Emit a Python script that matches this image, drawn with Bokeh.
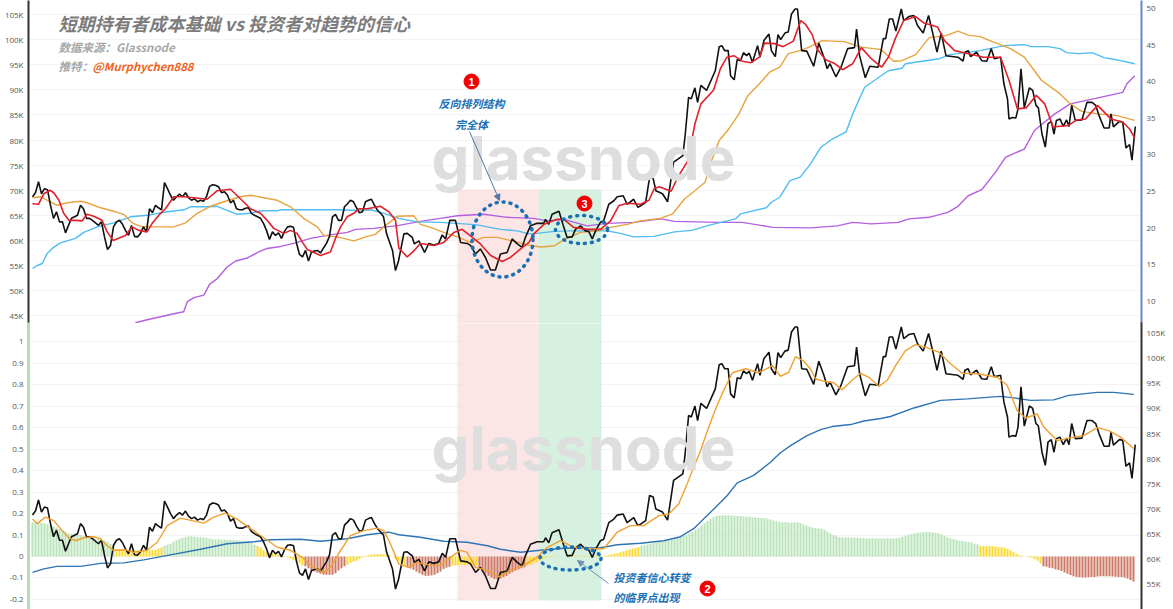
from bokeh.core.properties import value
from bokeh.embed import file_html
from bokeh.layouts import column
from bokeh.models import Arrow, FixedTicker, Label, LinearAxis, NormalHead, Range1d
from bokeh.plotting import figure
from bokeh.resources import INLINE

# days since the start of the chart, price in thousands of USD
price_days = list(range(123)) + [123.8, 124.9, 126.6, 127.3, 128.8, 130.7, 132.1, 133.8, 135.4, 136.6, 137.7, 139.1, 141, 142.7, 144.9, 146, 147.7, 149.3, 151, 152.7, 154.3, 156, 158.2, 159.9, 161.6, 163.2, 164.3, 166, 168.2, 170.4, 171, 172.1, 173.2, 175.5, 176.8, 178.2, 179.9, 181, 182.7, 184.3, 185.4, 186.6, 187.7, 189.3, 190.4, 192.1, 193.8, 194.9, 196.9, 198.2, 200.4, 201.8, 202.7, 204.4, 205.7, 206.9, 207.8, 210, 211.7, 213.7, 216.8, 217.6, 218.7, 219.6, 220.8, 221.7, 222.8, 224.7, 227.6, 228.9, 229.8, 230.7, 231.9, 232.7, 233.9, 234.9, 236, 237, 238, 238.9, 240, 241.7, 242.5, 243.8, 245.5, 246.3, 247.6, 248.5, 249.4, 250.8, 251.9, 253, 254.2, 255, 256.4, 258.1, 260.4, 262.1, 263.8, 264.9, 265.8, 267.8, 269.5, 271.7, 274, 274.7, 275.7, 277.6, 279.1, 281.9, 283.6, 284.4, 285.6, 286.7, 287.8, 289.6, 290.4, 292.1, 293.8, 295, 296.9, 298.7, 300, 301.5, 302.9, 304.5, 308.5, 310.2, 310.8, 311.9, 312.7, 314.7, 316.4, 318.1, 319.6, 320.6, 322.7, 323.8, 325, 325.5, 326.6, 327.8, 328.5, 329.5, 330.6, 332.3, 333.4, 334.5, 335.3, 336.5, 337.6, 338.5, 339.6, 340.5, 341.3, 342.5, 343.6, 344.7, 345.5, 346.4, 347.6, 349.8, 351.5, 353.2, 354.4, 355.5, 357.2, 358.9, 359.5, 360.3, 362.3, 363.4, 364.5, 365.7, 366.5, 367.6]
price = [68.7, 69.5, 71.7, 69.3, 70.3, 70.1, 67, 64.4, 65.7, 63.7, 63.7, 61.5, 63, 64.4, 64.7, 65, 67, 66.3, 64.4, 64.4, 64, 63.5, 63, 63.7, 60.7, 58.2, 59, 62.7, 63.7, 64, 63.2, 62, 61, 63, 60.8, 60.7, 61.4, 62.7, 61.7, 66.3, 65.5, 67, 66.5, 66.1, 71.5, 70.3, 69, 68, 68.7, 69.2, 68.7, 69.5, 68.5, 68, 68.3, 67.7, 68, 67.8, 68.7, 70.7, 71.1, 71, 70.7, 69.5, 69.7, 69, 67.5, 68, 66.3, 66.1, 66.1, 66.4, 66.5, 65.4, 65, 64.7, 64.4, 63.4, 62, 60.2, 61.7, 61, 61.5, 60.4, 61.8, 62.7, 62.8, 62.6, 59.5, 57.2, 56.7, 58, 55.9, 57.7, 57.9, 58, 57.5, 58.5, 59.4, 60.8, 64.7, 65.2, 64, 64, 66.7, 67.3, 68, 67.7, 66.5, 65.5, 65.7, 67.7, 68, 68.2, 67, 66, 65.4, 64.7, 61.4, 59.7, 58, 54, 55.9,
         61.3, 61.4, 60.6, 59.3, 59.9, 57.6, 59.4, 59.1, 59.4, 61.1, 60.3, 64, 64, 59.6, 59.4, 59, 57.3, 58.3, 56.6, 54.1, 54.1, 57.3, 57.6, 60.3, 59.3, 58.6, 60.6, 62.9, 63.4, 63.4, 64.2, 63.2, 65.2, 65.8, 63.2, 60.6, 60.7, 62.2, 62.9, 61.9, 61.8, 60.3, 61.9, 63.6, 63.9, 67.2, 67.9, 68.7, 68.9, 67.2, 68.2, 66.6,
         66.9, 67.6, 72.6, 72.3, 69.9, 69.3, 67.7, 75.6, 76.9, 81.2, 88.5, 88.2, 90.4, 87.5, 90.9, 89.9, 93.8, 98.6, 98.8, 97.8, 97.8, 92.8, 92, 96, 95.8, 97.4, 96.8, 97.3, 95.5, 98.8, 96.5, 99.8, 101.1, 97.8, 96.6, 101, 100, 101.3, 101.5, 105.1, 106.1, 106.1, 97.8, 97.7, 94.7, 99.3, 96.5, 94.2, 95.2, 92.6, 94.5, 98.2, 98.4, 102.1, 96.8, 92.4, 94.7, 94.5, 100.2, 100.2, 104.1, 104.1, 101.7, 106.1, 103.8, 104.6, 104.8, 102.8, 101.3, 104.8, 101.5, 97.5, 101.3, 96.8, 96.5, 95.7, 97.5, 97.8, 96.6, 97.5, 95.8, 95.7, 98.2, 96.2, 96.5, 91.2, 88.2, 84.2, 84.5, 84.4, 86.2, 94.2, 86.4, 90.4, 89.9, 86.9, 86.4, 81.2, 78.6, 83.2, 83.7, 81.2, 83.9, 84.2, 82.7, 84, 82.7, 86.9, 83.9, 84, 87.5, 87.5, 86.9, 84.9, 82.4, 82.4, 85.2, 82.6, 83.7, 83.6, 78.4, 79.1, 76, 82.7]

red_days = [0, 2, 3.8, 5.8, 7.1, 8.8, 10.4, 12.1, 14.3, 16.6, 18.2, 20.4, 23.2, 24.9, 26.9, 29.3, 31, 33.2, 35.4, 38.2, 39.9, 42.7, 44.3, 47.1, 50.4, 53.8, 58.2, 61.6, 66, 69.3, 72.7, 76, 78.2, 80.4, 83.8, 86, 88.2, 89.9, 91.6, 96, 99.3, 101, 102.7, 104.9, 107.1, 108.8, 111.6, 116, 118.8, 121, 122.1, 124.9, 127.1, 129.3, 133.8, 137.1, 140.5, 143.2, 146, 149.3, 152.7, 156.6, 159.3, 162.7, 165.5, 167.1, 170.5, 174.9, 177.1, 180.4, 184.9, 189.3, 192.7, 195.4, 198.2, 202.7, 205.5, 207.2, 208.9, 212.9, 215.1, 218.5, 220.8, 222.8, 227, 229.3, 231.5, 233.8, 236.6, 239.5, 242.3, 244, 247.4, 250.2, 253.6, 256.1, 257.6, 259.8, 261.5, 264.4, 267.2, 270, 273.4, 276.3, 279.6, 283, 285.3, 287.6, 290.4, 294.4, 297.2, 301.7, 304, 307.4, 311.3, 317, 322.7, 325.5, 328.3, 331.2, 334.6, 337.4, 340.2, 345.3, 348.1, 351, 355, 359.5, 363.4, 365.7, 367.4]
red = [67.3, 67.2, 69.3, 70, 69.5, 68, 65.4, 64, 64, 63.9, 65.2, 64.8, 64, 61.7, 60, 60.6, 61, 62.7, 62, 61.7, 63.4, 65.4, 66.3, 68.7, 68.7, 68.5, 68.2, 69.9, 70.2, 68.3, 66.3, 65.4, 64, 62.4, 61.4, 62, 61.4, 59.7, 58.2, 57, 57.7, 60.4, 62.7, 64.7, 65.4, 66.3, 66.3, 66.8, 65.7, 64, 58.5, 56.7, 57.9, 59.4, 59, 59.6, 61.6, 62.2, 60.9, 59.3, 57, 55.8, 56.6, 58.3, 59.6, 61.3, 63.2, 64.2, 64.2, 62.6, 62.2, 62.2, 63.9, 66.9, 67.4, 67.2, 68, 70.3, 70.7, 69.8, 72.6, 75.9, 83.2, 87.2, 89.9, 94.2, 96.5, 96.8, 95.7, 95.4, 96.5, 99.3, 99.2, 98.6, 99.7, 103.8, 103.1, 101.1, 98.2, 96, 95.3, 94, 95.2, 98.4, 96.2, 94.5, 96.5, 100.2, 103.8, 104.6, 103.3, 102.5, 99.8, 97.8, 97.3, 96.5, 96.5, 91.9, 86.2, 86.4, 88.9, 87.2, 82.6, 82.9, 84, 84.2, 86.9, 84.2, 83.6, 82.2, 80.4]

orange_days = [0, 2.7, 4.9, 8.2, 11.6, 16, 18.2, 22.7, 27.1, 30.4, 33.2, 36, 40.4, 47.1, 51, 54.9, 59.3, 64.9, 69.3, 72.7, 77.1, 81.6, 86, 90.4, 94.9, 97.1, 101.6, 107.1, 111.6, 114.3, 117.1, 121.6, 127.1, 129.3, 132.7, 137.1, 141.6, 146, 150.4, 154.9, 159.9, 164.9, 169.3, 173.8, 177.7, 182.7, 188.2, 192.7, 198.2, 202.7, 209.3, 213.4, 217.4, 220.8, 224.2, 226.4, 228.9, 232.1, 235.5, 238.3, 242.3, 245.7, 249.1, 251.9, 255.9, 259.3, 263.2, 270.6, 276.3, 283, 287, 289.8, 294.4, 298.9, 304.5, 308.5, 311.9, 315.9, 320.4, 326, 330.6, 334, 336.3, 341.9, 345.9, 349.8, 354.9, 361.2, 367.4]
orange = [68.5, 68.7, 68, 67, 67.5, 67.8, 67.5, 66.5, 65.8, 65.2, 63.5, 62.8, 62.7, 62.7, 63.5, 65.4, 66.8, 67.9, 68.7, 69, 68.5, 68, 66.7, 64.4, 62.7, 61, 60.7, 59.9, 60.8, 61.2, 62.7, 64.8, 64.9, 63.2, 62.6, 61.6, 60.7, 59.6, 60.6, 60.6, 59.9, 59.1, 58.7, 58.9, 60.3, 61.6, 61.9, 62.6, 63.2, 63.9, 64.4, 65.3, 68.3, 69.9, 71.6, 75.9, 79.9, 82.2, 85.2, 88.7, 91.2, 93.5, 94.5, 97.2, 97.8, 98.6, 99.8, 99.6, 98.5, 98, 95.7, 95.8, 97, 100.4, 100.8, 101.7, 100.9, 100.6, 99.5, 98.2, 96.5, 93.8, 91.9, 89.5, 87.2, 85.7, 85.2, 84.9, 83.9]

sky_days = [0, 1.6, 3.2, 4.9, 6.6, 9.3, 14.3, 17.1, 21.6, 27.1, 32.7, 38.2, 44.9, 50.4, 52.7, 58.2, 61.6, 64.9, 68.2, 72.7, 76, 81.6, 82.7, 100.4, 107.1, 112.7, 117.1, 122.1, 128.2, 136, 141.6, 148.2, 156, 161.6, 165.5, 168.2, 173.8, 179.3, 184.9, 191.6, 196, 200.4, 207.2, 214, 219.7, 225.3, 234.4, 236.1, 244.6, 246.3, 249.1, 252.5, 255.9, 259.3, 262.7, 266.6, 271.2, 273.4, 277.4, 281.9, 285.3, 289.8, 291, 296.6, 302.3, 305.7, 315.9, 323.8, 330.6, 332.8, 338.5, 342.5, 344.7, 348.7, 353.2, 357.2, 361.2, 367.4]
sky = [54.4, 55, 55.4, 57.4, 58.4, 59.5, 60.4, 61.6, 62.7, 63.5, 64.7, 65, 65.7, 66.1, 66.7, 66.7, 66.8, 66, 65.2, 65.4, 65.9, 65.9, 66.1, 66.1, 66, 66.1, 65.4, 64.4, 63.7, 63.6, 63.4, 63.1, 62.2, 61.9, 61.3, 61.4, 61.8, 61.9, 61.9, 61.9, 61.4, 60.7, 60.8, 61.7, 62, 63, 64.3, 65.3, 66.5, 67.6, 68.6, 71.9, 72.6, 75.2, 78.5, 80.2, 81.6, 85.2, 90.5, 92.4, 93.8, 94.3, 95.2, 95.7, 96.2, 97, 97.8, 98.8, 99, 98.6, 98.6, 98.2, 97.4, 97.2, 97.4, 96.4, 96, 95.2]

purple_days = [34.3, 38.2, 42.7, 47.1, 50.4, 51.6, 53.8, 57.1, 59.1, 61.6, 64.9, 67.7, 71.6, 75.4, 78.2, 82.7, 87.1, 92.7, 98.2, 104.9, 107.7, 113.8, 122.1, 129.3, 136, 141.6, 150.4, 158.2, 167.1, 171.6, 177.1, 184.9, 191.6, 200.4, 209.5, 214, 228.7, 236.6, 246.8, 259.3, 268.3, 273.4, 279.6, 288.7, 292.1, 298.9, 305.1, 308.5, 311.9, 316.4, 321, 324.4, 330.6, 334, 337.4, 340.8, 345.9, 354.4, 363.4, 364.8, 367.4]
purple = [43.6, 44.2, 44.8, 45.4, 45.8, 47.8, 48.6, 49.1, 51.3, 52.4, 54.7, 55.9, 56.5, 57.7, 58.4, 58.8, 59.4, 60.4, 61, 61.6, 62.2, 62.4, 63, 63.8, 64.4, 64.9, 65.2, 64.6, 64.4, 63.9, 64.2, 62.9, 63.4, 63.6, 64.3, 63.8, 63.6, 63.6, 62.6, 62.5, 62.9, 63.6, 63.3, 63.6, 64.3, 64.6, 65.6, 66.8, 68.9, 70.1, 73.6, 76.6, 78.2, 81.9, 83.6, 85.2, 87.2, 88.3, 89.5, 91.2, 92.8]

# lower panel
fast_days = [0, 1.6, 4.3, 7.1, 9.3, 12.1, 14.3, 17.1, 20.4, 22.7, 24.9, 27.1, 31, 33.8, 38.2, 41.6, 44.9, 49.3, 53.2, 57.1, 60.4, 64.3, 68.2, 72.7, 77.1, 81.6, 86, 89.9, 92.7, 97.1, 99.3, 102.7, 106, 110.4, 114.9, 117.1, 119.3, 122.1, 125.4, 128.2, 132.7, 136, 139.3, 142.7, 144.9, 147.7, 151.6, 155.4, 159.3, 163.8, 168.2, 171.6, 176, 180.4, 184.9, 190.4, 194.9, 199.3, 203.8, 208.8, 212.1, 215.4, 218.2, 220.4, 222.7, 225, 227.5, 230, 233.3, 237.7, 242, 246.7, 249.3, 252.1, 254.3, 257.1, 259.3, 261, 263.8, 267.1, 269.9, 273.2, 276, 278.8, 282.1, 284.9, 287.7, 291, 294.3, 297.7, 302.1, 306, 309.9, 314.9, 321.6, 324.9, 328.2, 331, 334.9, 337.1, 341.6, 347.1, 350.4, 354.9, 358.8, 362.7, 367.1]
fast = [67.9, 67, 68.3, 67.6, 66, 64.2, 63.6, 64.2, 64.4, 64, 62.6, 61.7, 61.8, 61.3, 61.7, 63.3, 66.6, 68.1, 67.6, 67.1, 68.3, 69.1, 67.9, 66, 64.2, 62.3, 61.7, 60.3, 58.7, 57.2, 58.3, 61.7, 64.6, 65.6, 66.1, 65.6, 63, 59, 58.3, 59.3, 58.7, 58.7, 60.3, 61.7, 61.3, 58.3, 57.7, 56.4, 57.7, 58.7, 60.3, 62.3, 63.6, 62.3, 62, 62, 65.3, 66.6, 66.6, 68.6, 68.9, 70.9, 74.9, 78.2, 81.5, 85.5, 89.5, 93, 97, 97.8, 97, 98.4, 96.3, 97.1, 100.2, 99.3, 97.8, 95.8, 95.3, 95, 93.6, 95.5, 96.9, 96.1, 94.3, 95.5, 98.4, 101.4, 102.6, 102.1, 101.1, 98.8, 96.9, 96.8, 96.1, 94.5, 89.5, 88, 88.8, 86.2, 83.5, 84.2, 84.5, 86.1, 85.5, 84.2, 81.9]

slow_days = [0, 3.8, 8.2, 16, 22.7, 30.4, 37.1, 46, 56, 64.9, 73.8, 79.3, 89.3, 96, 104.9, 111.6, 118.8, 122.1, 129.3, 137.1, 144.9, 151.6, 156, 162.7, 169.3, 177.1, 189.3, 194.9, 202.7, 210.4, 216, 220.4, 226.6, 231.6, 234.9, 240.4, 246, 249.3, 252.7, 258.2, 262.7, 266.5, 272.7, 277.1, 282.7, 286, 293.8, 302.7, 311.6, 322.7, 327.1, 332.7, 340.4, 345.4, 354.9, 360.4, 367.1]
slow = [57.3, 58, 58.5, 58.5, 59.1, 59.2, 59.8, 60.8, 61.9, 63, 63.4, 63.8, 63.9, 63.5, 64, 64.8, 65.3, 64.8, 64.3, 63.5, 63.3, 62.6, 61.9, 61.3, 61.7, 62.1, 62.2, 62.8, 63.1, 63.6, 64.4, 66, 69.6, 72.6, 75.1, 76.6, 79.2, 81.1, 82.5, 84.5, 85.7, 86.3, 86.7, 87.4, 87.9, 88.3, 90, 91.5, 91.8, 92.3, 92, 91.5, 91.6, 92.5, 93.1, 93.1, 92.7]

# one histogram value a day, day 0 to 367
hist = [.16, .16, .158, .157, .155, .15, .145, .14, .135, .128,
        .12, .115, .108, .105, .103, .102, .1, .097, .093, .087,
        .085, .082, .08, .078, .074, .07, .06, .052, .035, .033,
        .03, .03, .03, .029, .028, .028, .028, .028, .028, .029,
        .03, .032, .036, .042, .051, .055, .06, .07, .076, .082,
        .087, .09, .094, .094, .092, .091, .09, .088, .086, .084,
        .082, .08, .08, .079, .079, .078, .078, .078, .076, .075,
        .073, .072, .07, .065, .055, .049, .042, .03, .02, .018,
        .014, .01, .008, .004, -.002, -.005, -.01, -.016, -.025, -.032,
        -.042, -.045, -.055, -.065, -.07, -.075, -.08, -.085, -.085, -.085,
        -.085, -.078, -.065, -.055, -.045, -.038, -.03, -.024, -.02, -.012,
        -.005, .003, .006, .008, .01, .011, .011, .011, .01, .006,
        0, -.01, -.02, -.03, -.042, -.05, -.056, -.062, -.07, -.078,
        -.085, -.09, -.09, -.088, -.085, -.078, -.07, -.058, -.052, -.048,
        -.043, -.042, -.04, -.04, -.04, -.04, -.041, -.042, -.043, -.055,
        -.068, -.08, -.09, -.098, -.105, -.105, -.102, -.097, -.09, -.08,
        -.073, -.066, -.06, -.055, -.05, -.043, -.038, -.033, -.027, -.02,
        -.012, -.006, -.002, .002, .002, .001, 0, 0, .001, .002,
        .003, .003, .003, .003, .003, .003, .003, .003, .003, .003,
        .003, .004, .006, .01, .013, .016, .02, .024, .028, .033,
        .037, .04, .044, .051, .053, .056, .06, .063, .066, .068,
        .07, .072, .076, .08, .084, .087, .091, .096, .1, .106,
        .115, .125, .134, .145, .155, .166, .175, .183, .19, .191,
        .192, .192, .192, .191, .19, .189, .188, .186, .185, .184,
        .183, .182, .18, .18, .178, .177, .172, .168, .164, .162,
        .16, .16, .158, .158, .158, .16, .156, .15, .145, .139,
        .135, .133, .131, .13, .125, .115, .108, .1, .095, .09,
        .089, .089, .089, .088, .088, .087, .086, .085, .085, .084,
        .084, .084, .084, .084, .084, .084, .084, .084, .085, .088,
        .092, .097, .102, .106, .108, .11, .112, .113, .114, .114,
        .112, .11, .108, .102, .097, .09, .085, .082, .078, .074,
        .072, .07, .068, .066, .06, .056, .049, .049, .048, .048,
        .048, .047, .045, .043, .042, .036, .028, .02, .012, .006,
        .003, 0, -.003, -.006, -.012, -.02, -.033, -.045, -.048, -.052,
        -.055, -.059, -.063, -.068, -.074, -.08, -.086, -.092, -.095, -.097,
        -.098, -.098, -.097, -.096, -.095, -.093, -.092, -.092, -.092, -.092,
        -.093, -.094, -.095, -.095, -.098, -.103, -.11, -.116]
hist_days = list(range(len(hist)))

band_edges = [141.67, 168.67, 189.67]

top_ticks = [105, 100, 95, 90, 85, 80, 75, 70, 65, 60, 55, 50, 45]
top_right_ticks = [50, 45, 40, 35, 30, 25, 20, 15, 10]
bot_ticks = [1, .9, .8, .7, .6, .5, .4, .3, .2, .1, 0, -.1, -.2]
bot_tick_labels = ["1", "0.9", "0.8", "0.7", "0.6", "0.5", "0.4", "0.3", "0.2", "0.1", "0", "-0.1", "-0.2"]
bot_right_ticks = [105, 100, 95, 90, 85, 80, 75, 70, 65, 60, 55]

CJK = "Noto Sans CJK SC"
TICK_FONT = "Open Sans"
NOTE = "#1a6fb5"
TOP_LOW, TOP_HIGH = 43.45, 107.79
BOT_LOW, BOT_HIGH = -.247, 1.0909


# where to put the notes: pixel rows of the chart to axis values
def day_at(px):
    return (px - 32) / 3


def top_at(py):
    return 105 - (py - 14) / 5.02


def bot_at(py):
    return (556 - py) / 214.5


def style_axis(ax, color, width, ticks, labels):
    ax.ticker = FixedTicker(ticks=ticks)
    ax.major_label_overrides = labels
    ax.major_tick_line_color = None
    ax.minor_tick_line_color = None
    ax.major_tick_out = 0
    ax.major_tick_in = 0
    ax.major_label_standoff = 5
    ax.axis_line_color = color
    ax.axis_line_width = width
    ax.major_label_text_font = TICK_FONT
    ax.major_label_text_font_size = "8px"
    ax.major_label_text_color = "#555555"


def make_panel(height, y_range, right_range):
    p = figure(width=1173, height=height, x_range=(-1.33, 369.67), y_range=y_range,
               output_backend="svg", toolbar_location=None, x_axis_location=None,
               min_border_left=28, min_border_right=32, min_border_top=0, min_border_bottom=0)
    p.outline_line_color = None
    p.xgrid.visible = False
    p.ygrid.grid_line_color = "#f3f3f3"
    p.background_fill_color = None
    p.border_fill_color = None
    p.extra_y_ranges = {"right": right_range}
    return p


def note(p, x, y, text, color=NOTE, size="11px", align="left", font=CJK, style="bold italic", baseline="middle"):
    p.add_layout(Label(x=x, y=y, text=text, text_color=color, text_font=font, text_font_size=size,
                       text_font_style=style, text_align=align, text_baseline=baseline))


def badge(p, x, y, text):
    p.scatter([x], [y], size=15, color="#f00000")
    note(p, x, y, text, color="white", size="11px", align="center", font="Liberation Sans", style="bold")


def dotted_ring(p, x, y, w, h):
    p.ellipse([x], [y], width=[w], height=[h], width_units="screen", height_units="screen",
              fill_alpha=0, line_color=NOTE, line_width=3.5, line_dash=value([1, 6]), line_cap="round")


# upper panel
top = make_panel(323, Range1d(TOP_LOW, TOP_HIGH), Range1d(6.97, 51.09))
style_axis(top.yaxis[0], "#333333", 2, top_ticks, {t: f"{t}K" for t in top_ticks})
top_right = LinearAxis(y_range_name="right")
style_axis(top_right, "#6a86cf", 2, top_right_ticks, {t: str(t) for t in top_right_ticks})
top.add_layout(top_right, "right")

note(top, day_at(431), top_at(157), "glassnode", color="#dedede", size="60px", font="Inter", style="bold", baseline="alphabetic")
top.quad(left=band_edges[0], right=band_edges[1], bottom=TOP_LOW, top=top_at(189), color="#fbdcdc", alpha=0.75, line_color=None)
top.quad(left=band_edges[1], right=band_edges[2], bottom=TOP_LOW, top=top_at(189), color="#c9ecd7", alpha=0.75, line_color=None)

top.line(purple_days, purple, color="#b45fe0", line_width=1.4)
top.line(sky_days, sky, color="#4dbdf2", line_width=1.4)
top.line(orange_days, orange, color="#e8a33d", line_width=1.4)
top.line(price_days, price, color="#111111", line_width=1.6)
top.line(red_days, red, color="#e0202a", line_width=1.6)

dotted_ring(top, day_at(502), top_at(239), 61, 75)
dotted_ring(top, day_at(581), top_at(229), 52, 28)
top.add_layout(Arrow(end=NormalHead(size=6, fill_color="#4f76a8", line_color="#4f76a8"), line_color="#4f76a8", line_width=1,
                     x_start=day_at(469), y_start=top_at(131), x_end=day_at(499), y_end=top_at(200)))

note(top, day_at(58), top_at(22), "短期持有者成本基础 vs 投资者对趋势的信心", color="#7c7c7c", size="18px")
note(top, day_at(58), top_at(46), "数据来源：Glassnode", color="#a8a8a8", size="11.5px")
note(top, day_at(58), top_at(65), "推特：", color="#a8a8a8", size="11.5px")
note(top, day_at(92), top_at(65), "@Murphychen888", color="#f0641e", size="11.3px")
note(top, day_at(471), top_at(102), "反向排列结构", align="center")
note(top, day_at(471), top_at(123), "完全体", align="center")
badge(top, day_at(471), top_at(81), "1")
badge(top, day_at(584), top_at(203), "3")

# lower panel, one pixel over the upper one so the bands join
bot = make_panel(287, Range1d(BOT_LOW, BOT_HIGH), Range1d(49.93, 106.99))
bot.margin = (-1, 0, 0, 0)
style_axis(bot.yaxis[0], "#b5dcb5", 3, bot_ticks, dict(zip(bot_ticks, bot_tick_labels)))
bot_right = LinearAxis(y_range_name="right")
style_axis(bot_right, "#333333", 2, bot_right_ticks, {t: f"{t}K" for t in bot_right_ticks})
bot.add_layout(bot_right, "right")

note(bot, day_at(431), bot_at(447), "glassnode", color="#dedede", size="60px", font="Inter", style="bold", baseline="alphabetic")
bot.quad(left=band_edges[0], right=band_edges[1], bottom=bot_at(600), top=bot_at(323), color="#fbdcdc", alpha=0.75, line_color=None)
bot.quad(left=band_edges[1], right=band_edges[2], bottom=bot_at(600), top=bot_at(323), color="#c9ecd7", alpha=0.75, line_color=None)

bar_colors = ["#b9e3b8" if v > .05 else "#cc7a66" if v < -.044 else "#fbd92f" for v in hist]
bot.vbar(x=hist_days, top=hist, bottom=0, width=0.68, color=bar_colors, line_color=None)

bot.line(slow_days, slow, color="#2f74b5", line_width=1.4, y_range_name="right")
bot.line(price_days, price, color="#111111", line_width=1.6, y_range_name="right")
bot.line(fast_days, fast, color="#f0a030", line_width=1.4, y_range_name="right")

dotted_ring(bot, day_at(570), bot_at(558), 61, 23)
bot.add_layout(Arrow(end=NormalHead(size=6, fill_color="#6f8fb8", line_color="#6f8fb8"), line_color="#6f8fb8", line_width=1,
                     x_start=day_at(608), y_start=bot_at(583), x_end=day_at(577), y_end=bot_at(560)))
note(bot, day_at(613), bot_at(576), "投资者信心转变")
note(bot, day_at(613), bot_at(596), "的临界点出现")
badge(bot, day_at(707), bot_at(588), "2")

page = column(top, bot, spacing=0)
open("out.html", "w").write(file_html(page, INLINE))
